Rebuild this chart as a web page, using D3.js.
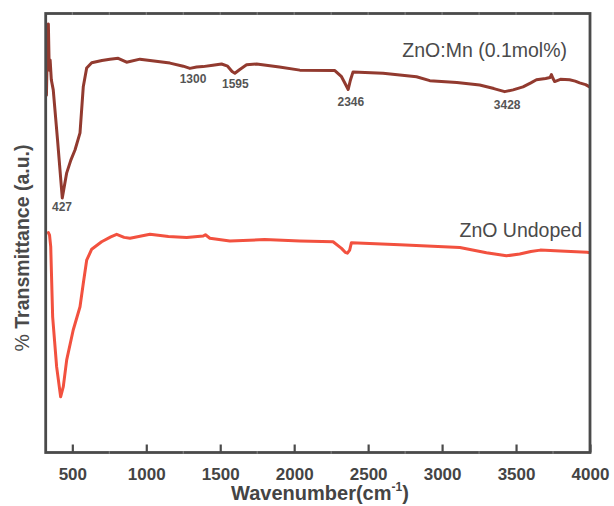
<!DOCTYPE html>
<html>
<head>
<meta charset="utf-8">
<script src="https://cdn.jsdelivr.net/npm/d3@7"></script>
<style>
  html, body { margin: 0; padding: 0; background: #fff; }
  svg { display: block; }
  text { font-family: "Liberation Sans", Arial, sans-serif; }
</style>
</head>
<body>
<svg id="chart" width="614" height="506"></svg>
<script>
// ---- data ----
const xTicks = [500, 1000, 1500, 2000, 2500, 3000, 3500, 4000];
const xMinorTicks = [750, 1250, 1750, 2250, 2750, 3250, 3750];

const mnWave = [325, 332, 338, 344, 350, 358, 371, 400, 432, 462, 490, 518, 552, 574, 597, 631, 700, 754, 810, 867, 957, 1025, 1160, 1250, 1295, 1340, 1383, 1450, 1509, 1550, 1580, 1599, 1630, 1678, 1746, 1900, 2038, 2275, 2320, 2345, 2365, 2380, 2398, 2601, 2827, 2917, 3100, 3254, 3350, 3423, 3480, 3547, 3600, 3638, 3700, 3730, 3739, 3750, 3761, 3800, 3862, 3900, 3930, 3970, 3997];
const mnT = [81.4, 94.0, 97.6, 87.1, 89.4, 84.9, 82.6, 71.2, 58.0, 63.7, 66.6, 68.9, 72.8, 83.3, 87.6, 88.8, 89.3, 89.6, 89.8, 88.9, 89.6, 89.3, 88.7, 88.0, 87.5, 87.8, 87.9, 88.2, 88.5, 88.0, 86.8, 86.4, 87.2, 88.3, 88.5, 87.8, 87.1, 87.0, 85.6, 84.0, 82.7, 84.8, 86.7, 86.4, 85.6, 84.7, 84.3, 83.7, 82.9, 82.2, 82.6, 83.3, 84.2, 84.9, 85.2, 85.4, 86.1, 85.2, 84.5, 85.0, 84.9, 84.6, 84.2, 83.8, 83.3];

const undWave = [338, 346, 354, 367, 394, 421, 439, 462, 506, 552, 574, 597, 631, 698, 760, 800, 850, 890, 1025, 1150, 1273, 1385, 1400, 1430, 1565, 1800, 2039, 2263, 2320, 2345, 2360, 2375, 2387, 2714, 3120, 3300, 3435, 3525, 3600, 3664, 3799, 3980, 4000];
const undT = [50.1, 49.5, 46.9, 30.9, 19.5, 12.7, 15.0, 21.1, 27.9, 33.2, 38.5, 43.8, 46.3, 48.0, 49.1, 49.7, 49.0, 48.8, 49.7, 49.2, 49.0, 49.3, 49.6, 48.8, 48.2, 48.5, 48.2, 48.0, 46.5, 45.6, 45.4, 46.1, 47.8, 47.3, 46.7, 45.5, 44.8, 45.2, 45.8, 46.1, 45.9, 45.6, 45.5];

const peakLabels = ["427", "1300", "1595", "2346", "3428"];
const peakLabelWave = [430, 1316, 1602, 2383, 3440];   // label centres (data units)
const peakLabelT = [55.0, 84.2, 83.0, 78.9, 78.2];      // label baselines (data units)

const seriesNames = ["ZnO:Mn (0.1mol%)", "ZnO Undoped"];
const seriesColors = ["#923a2f", "#f2513f"];

// ---- layout ----
const svg = d3.select("#chart");
const L = 45.7, R = 590, T = 13.5, B = 452.5;
const x = d3.scaleLinear().domain([320, 4000]).range([L, R]);
const y = d3.scaleLinear().domain([0, 100]).range([B, T]);
const axisColor = "#4a4a4a";

svg.append("defs").append("clipPath").attr("id", "clip")
  .append("rect").attr("x", L).attr("y", T).attr("width", R - L).attr("height", B - T);

const line = d3.line().x(d => x(d[0])).y(d => y(d[1])).curve(d3.curveLinear);

const series = [
  d3.zip(mnWave, mnT),
  d3.zip(undWave, undT)
];

const g = svg.append("g").attr("clip-path", "url(#clip)");
series.forEach((s, i) => {
  g.append("path").datum(s)
    .attr("d", line)
    .attr("fill", "none")
    .attr("stroke", seriesColors[i])
    .attr("stroke-width", 3)
    .attr("stroke-linejoin", "round")
    .attr("stroke-linecap", "round");
});

// frame
svg.append("rect").attr("x", L).attr("y", T).attr("width", R - L).attr("height", B - T)
  .attr("fill", "none").attr("stroke", axisColor).attr("stroke-width", 2.8);

// bottom axis with inward major ticks
const xAxis = d3.axisBottom(x).tickValues(xTicks).tickFormat(d3.format("d"))
  .tickSizeInner(-8).tickSizeOuter(0);
const ax = svg.append("g").attr("transform", `translate(0,${B})`).call(xAxis);
ax.select(".domain").remove();
ax.selectAll(".tick line").attr("stroke", axisColor).attr("stroke-width", 2.2);
ax.selectAll(".tick text")
  .attr("fill", "#444")
  .attr("font-size", 17)
  .attr("font-weight", "bold")
  .attr("font-family", "'Liberation Sans', Arial, sans-serif")
  .attr("dy", null)
  .attr("y", 27);

// faint minor marks on top and bottom frame
[T, B].forEach(yy => {
  svg.append("g").selectAll("line").data(xMinorTicks.concat(yy === T ? xTicks.slice(0, -1) : []))
    .join("line")
    .attr("x1", d => x(d)).attr("x2", d => x(d))
    .attr("y1", yy - 1.4).attr("y2", yy + 1.4)
    .attr("stroke", "#8a8a8a").attr("stroke-width", 1);
});

// peak labels
svg.append("g").selectAll("text").data(peakLabels).join("text")
  .attr("x", (d, i) => x(peakLabelWave[i]))
  .attr("y", (d, i) => y(peakLabelT[i]))
  .attr("text-anchor", "middle")
  .attr("font-size", 12)
  .attr("font-weight", "bold")
  .attr("fill", "#555")
  .text(d => d);

// series labels
svg.append("text").attr("x", 567).attr("y", 57).attr("text-anchor", "end")
  .attr("font-size", 19.5).attr("fill", "#4a4a4a").text(seriesNames[0]);
svg.append("text").attr("x", 582).attr("y", 237).attr("text-anchor", "end")
  .attr("font-size", 19.5).attr("fill", "#4a4a4a").text(seriesNames[1]);

// axis titles
const xt = svg.append("text").attr("x", 320).attr("y", 500).attr("text-anchor", "middle")
  .attr("font-size", 20).attr("font-weight", "bold").attr("fill", "#444");
xt.append("tspan").text("Wavenumber(cm");
xt.append("tspan").attr("font-size", 12).attr("dy", -9).text("-1");
xt.append("tspan").attr("dy", 9).text(")");

const yt = svg.append("text").attr("transform", "translate(29,248) rotate(-90)")
  .attr("text-anchor", "middle").attr("font-size", 19.5).attr("fill", "#4a4a4a");
yt.append("tspan").text("% ");
yt.append("tspan").attr("font-weight", "bold").text("Transmittance (a.u.)");
</script>
</body>
</html>
